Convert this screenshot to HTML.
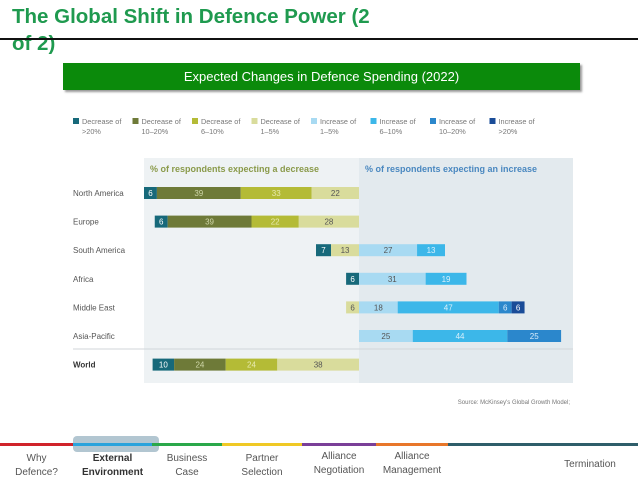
<!DOCTYPE html>
<html><head><meta charset="utf-8"><style>
body{margin:0;width:638px;height:479px;background:#fff;position:relative;overflow:hidden;font-family:"Liberation Sans",sans-serif}
.t{position:absolute}
</style></head><body>
<div class="t" style="left:12px;top:3px;width:382px;font-size:20.5px;font-weight:bold;color:#1f9a4f;line-height:27px">The Global Shift in Defence Power (2 of 2)</div>
<div class="t" style="left:0;top:38px;width:638px;height:2px;background:#111"></div>
<div class="t" style="left:63px;top:63px;width:517px;height:27px;background:#0b8a0b;color:#fff;font-size:13px;line-height:27px;text-align:center;box-shadow:2px 2px 2px #999">Expected Changes in Defence Spending (2022)</div>
<svg id="c" class="t" style="left:0;top:0" width="638" height="479"></svg>
<script>
const categories=["North America","Europe","South America","Africa","Middle East","Asia-Pacific","World"];
const decGt20=[6,6,7,6,0,0,10];
const dec10to20=[39,39,0,0,0,0,24];
const dec6to10=[33,22,0,0,0,0,24];
const dec1to5=[22,28,13,0,6,0,38];
const inc1to5=[0,0,27,31,18,25,0];
const inc6to10=[0,0,13,19,47,44,0];
const inc10to20=[0,0,0,0,6,25,0];
const incGt20=[0,0,0,0,6,0,0];
const legendLabels=[["Decrease of",">20%"],["Decrease of","10–20%"],["Decrease of","6–10%"],["Decrease of","1–5%"],["Increase of","1–5%"],["Increase of","6–10%"],["Increase of","10–20%"],["Increase of",">20%"]];
const colors=["#17697a","#6e7a38","#b4bb36","#d9dc9c","#a8daf2","#3cb7e9","#2b87cc","#1a4c98"];
const textCol=["#fff","#cfd6a8","#e8eab0","#555","#555","#d8f0fb","#d8ecfb","#fff"];
const svg=document.getElementById('c');const NS='http://www.w3.org/2000/svg';
function el(t,a,p){const e=document.createElementNS(NS,t);for(const k in a)e.setAttribute(k,a[k]);(p||svg).appendChild(e);return e}
const zeroX=359,unit=2.15;
const x=v=>zeroX+v*unit;
const rowY=i=>193+i*28.6;
let r=el('rect',{x:144,y:158,width:215,height:225,fill:'#eef2f4'});

r=el('rect',{x:359,y:158,width:214,height:225,fill:'#e3eaee'});

let t=el('text',{x:150,y:172,'font-size':9,'font-weight':'bold',fill:'#8a9a4a'});t.textContent='% of respondents expecting a decrease';

t=el('text',{x:365,y:172,'font-size':9,'font-weight':'bold',fill:'#4a88c0'});t.textContent='% of respondents expecting an increase';

let ln=el('line',{x1:73,x2:573,y1:349,y2:349,stroke:'#d0d6da','stroke-width':1});

legendLabels.forEach((l,i)=>{const lx=73+i*59.5;
 const s=el('rect',{x:lx,y:118,width:6,height:6,fill:colors[i]});
 
 const a=el('text',{x:lx+9,y:124,'font-size':7.3,fill:'#777'});a.textContent=l[0];
 
 const b=el('text',{x:lx+9,y:134,'font-size':7.3,fill:'#777'});b.textContent=l[1];
 });
const dec=[decGt20,dec10to20,dec6to10,dec1to5],inc=[inc1to5,inc6to10,inc10to20,incGt20];
categories.forEach((c,i)=>{const y=rowY(i);
 const lab=el('text',{x:73,y:y+3,'font-size':8,fill:i==6?'#333':'#555','font-weight':i==6?'bold':'normal'});lab.textContent=c;
 
 let tot=dec.reduce((s,a)=>s+a[i],0);let cur=-tot;
 const segs=[];dec.forEach((a,k)=>segs.push([k,a[i]]));inc.forEach((a,k)=>segs.push([k+4,a[i]]));
 segs.forEach(([k,v])=>{if(!v)return;const x0=x(cur),w=v*unit;
  const b=el('rect',{x:x0,y:y-6,width:w,height:12,fill:colors[k]});
  
  const tv=el('text',{x:x0+w/2,y:y+3,'font-size':8,'text-anchor':'middle',fill:textCol[k]});tv.textContent=v;
  
  cur+=v;});
});
t=el('text',{x:570,y:404,'font-size':6,fill:'#777','text-anchor':'end'});t.textContent="Source: McKinsey's Global Growth Model;";

const navCols=["#d0232a","#2aa3dc","#2aa84a","#f0c925","#7a3f98","#e8772a","#2f5e6a"];
const navX=[0,73,152,222,302,376,448,638];
const navL=[["Why","Defence?"],["External","Environment"],["Business","Case"],["Partner","Selection"],["Alliance","Negotiation"],["Alliance","Management"],["Termination"]];
const glow=el('rect',{x:73,y:436,width:86,height:16,rx:4,fill:'#9fb8c6',opacity:0.8});

navCols.forEach((c,i)=>{const seg=el('rect',{x:navX[i],y:443,width:navX[i+1]-navX[i],height:3,fill:c});
 
 const cx=i==6?590:(navX[i]+navX[i+1])/2;const L=navL[i];
 const g=el('text',{x:cx,'text-anchor':'middle','font-size':10,fill:i==1?'#333':'#555','font-weight':i==1?'bold':'normal'});
 
 if(L.length==1){g.setAttribute('y',467);g.textContent=L[0];}
 else{const y0=i>=4?459:461;L.forEach((s,j)=>{const sp=el('tspan',{x:cx,y:y0+j*14},g);sp.textContent=s;});}
});
</script>
</body></html>
